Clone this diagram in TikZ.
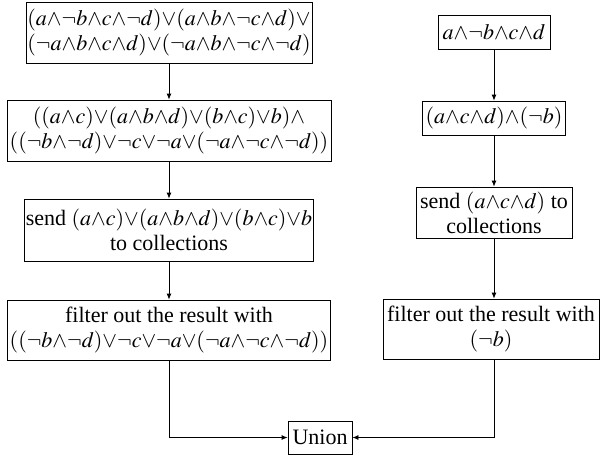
\documentclass[tikz,border=0pt]{standalone}
\usepackage{mathptmx}
\usepackage[no-math]{fontspec}
\setmainfont{Liberation Serif}
\usetikzlibrary{arrows.meta}
\begin{document}
\begin{tikzpicture}[x=1pt,y=-1pt,
  box/.style={draw,line width=0.8pt,align=center,inner sep=0pt,font=\fontsize{22}{25}\selectfont},
  conn/.style={line width=0.8pt,-{Latex[length=6pt,width=5pt]}}]
\useasboundingbox (0,0) rectangle (600,458);
\node[box,minimum width=286,minimum height=61] (L1) at (169,32.5)
  {$(a{\wedge}\neg b{\wedge}c{\wedge}\neg d){\vee}(a{\wedge}b{\wedge}\neg c{\wedge}d){\vee}$\\
   $(\neg a{\wedge}b{\wedge}c{\wedge}d){\vee}(\neg a{\wedge}b{\wedge}\neg c{\wedge}\neg d)$};
\node[box,minimum width=324,minimum height=61] (L2) at (169,130.5)
  {$((a{\wedge}c){\vee}(a{\wedge}b{\wedge}d){\vee}(b{\wedge}c){\vee}b){\wedge}$\\
   $((\neg b{\wedge}\neg d){\vee}\neg c{\vee}\neg a{\vee}(\neg a{\wedge}\neg c{\wedge}\neg d))$};
\node[box,minimum width=289,minimum height=62] (L3) at (169,230)
  {send $(a{\wedge}c){\vee}(a{\wedge}b{\wedge}d){\vee}(b{\wedge}c){\vee}b$\\ to collections};
\node[box,minimum width=323,minimum height=60] (L4) at (169,330)
  {filter out the result with\\
   $((\neg b{\wedge}\neg d){\vee}\neg c{\vee}\neg a{\vee}(\neg a{\wedge}\neg c{\wedge}\neg d))$};
\node[box,minimum width=64,minimum height=33] (U) at (320,437.5) {Union};
\node[box,minimum width=112,minimum height=34] (R1) at (494,32) {$a{\wedge}\neg b{\wedge}c{\wedge}d$};
\node[box,minimum width=143,minimum height=34] (R2) at (494,118) {$(a{\wedge}c{\wedge}d){\wedge}(\neg b)$};
\node[box,minimum width=156,minimum height=51] (R3) at (494,212.5) {send $(a{\wedge}c{\wedge}d)$ to\\ collections};
\node[box,minimum width=216,minimum height=60] (R4) at (491,329) {filter out the result with\\ $(\neg b)$};
\draw[conn] (L1.south) -- (L2.north);
\draw[conn] (L2.south) -- (L3.north);
\draw[conn] (L3.south) -- (L4.north);
\draw[conn] (R1.south) -- (R2.north);
\draw[conn] (R2.south) -- (R3.north);
\draw[conn] (R3.south) -- (R3.south |- R4.north);
\draw[conn] (L4.south) |- (U.west);
\draw[conn] (R3.south |- R4.south) |- (U.east);
\end{tikzpicture}
\end{document}
